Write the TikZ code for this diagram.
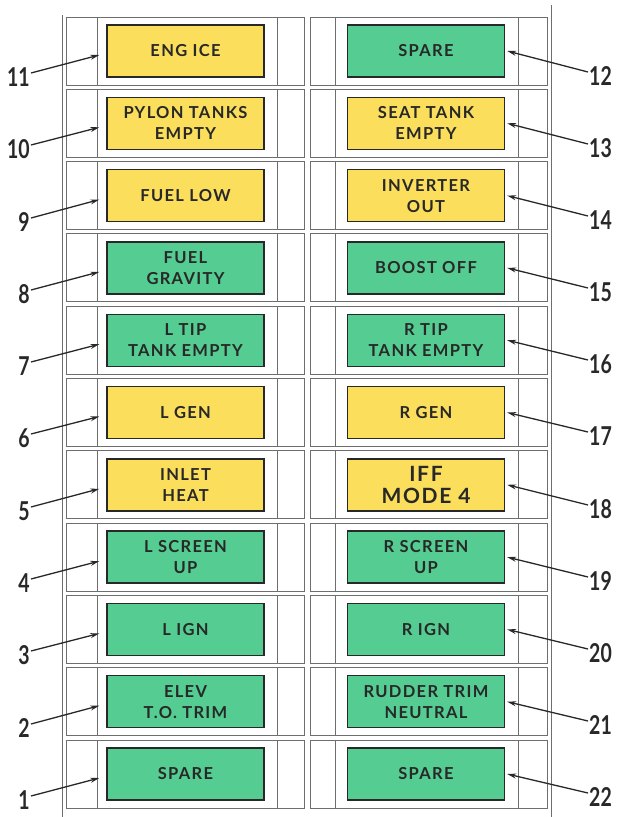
\documentclass[tikz,border=0pt]{standalone}
\usepackage{fontspec}
\setmainfont{Lato}
\newfontfamily\lampfont[LetterSpace=8]{Lato}
\newfontfamily\numfont[FakeStretch=0.75]{Lato}
\usetikzlibrary{arrows.meta}
\definecolor{lampyellow}{RGB}{250,222,92}
\definecolor{lampgreen}{RGB}{84,204,146}
\definecolor{gridgray}{RGB}{110,110,110}
\definecolor{ink}{RGB}{40,40,40}
\tikzset{
  cell/.style={draw=gridgray, line width=0.9pt},
  lamp/.style={draw=ink, line width=1.4pt, minimum width=157pt, minimum height=52pt,
    inner sep=0pt, align=center, text=ink, font=\lampfont\bfseries\fontsize{16.5}{21}\selectfont},
  yel/.style={lamp, fill=lampyellow},
  grn/.style={lamp, fill=lampgreen},
  num/.style={font=\numfont\bfseries\fontsize{26}{26}\selectfont, text=ink, inner sep=1pt},
  pointer/.style={-{Stealth[length=9pt,width=5pt]}, line width=1.3pt, draw=ink},
}
\begin{document}
\begin{tikzpicture}[x=1pt,y=-1pt]
  \useasboundingbox (0,0) rectangle (618,817);
  % panel frame
  \draw[cell] (62,15) -- (62,817);
  \draw[cell] (551,5) -- (551,817);
  \foreach \k in {0,...,10} {
    \pgfmathsetmacro{\rtop}{17+72.3*\k}
    \draw[cell] (66,\rtop) rectangle (304,\rtop+68);
    \draw[cell] (97,\rtop) -- (97,\rtop+68);
    \draw[cell] (277,\rtop) -- (277,\rtop+68);
    \draw[cell] (310,\rtop) rectangle (547,\rtop+68);
    \draw[cell] (335,\rtop) -- (335,\rtop+68);
    \draw[cell] (518,\rtop) -- (518,\rtop+68);
  }
  % left lamps
  \node[yel] (lamp11) at (185.5,51) {ENG ICE};
  \node[yel] (lamp10) at (185.5,123.3) {PYLON TANKS\\EMPTY};
  \node[yel] (lamp9) at (185.5,195.6) {FUEL LOW};
  \node[grn] (lamp8) at (185.5,267.9) {FUEL\\GRAVITY};
  \node[grn] (lamp7) at (185.5,340.2) {L TIP\\TANK EMPTY};
  \node[yel] (lamp6) at (185.5,412.5) {L GEN};
  \node[yel] (lamp5) at (185.5,484.8) {INLET\\HEAT};
  \node[grn] (lamp4) at (185.5,557.1) {L SCREEN\\UP};
  \node[grn] (lamp3) at (185.5,629.4) {L IGN};
  \node[grn] (lamp2) at (185.5,701.7) {ELEV\\T.O. TRIM};
  \node[grn] (lamp1) at (185.5,774) {SPARE};
  % right lamps
  \node[grn] (lamp12) at (426,51) {SPARE};
  \node[yel] (lamp13) at (426,123.3) {SEAT TANK\\EMPTY};
  \node[yel] (lamp14) at (426,195.6) {INVERTER\\OUT};
  \node[grn] (lamp15) at (426,267.9) {BOOST OFF};
  \node[grn] (lamp16) at (426,340.2) {R TIP\\TANK EMPTY};
  \node[yel] (lamp17) at (426,412.5) {R GEN};
  \node[yel, font=\lampfont\bfseries\fontsize{21}{22}\selectfont] (lamp18) at (426,484.8) {IFF\\MODE 4};
  \node[grn] (lamp19) at (426,557.1) {R SCREEN\\UP};
  \node[grn] (lamp20) at (426,629.4) {R IGN};
  \node[grn] (lamp21) at (426,701.7) {RUDDER TRIM\\NEUTRAL};
  \node[grn] (lamp22) at (426,774) {SPARE};
  % numbers
  \foreach \n/\y in {11/77,10/149,9/222,8/294,7/366,6/438,5/511,4/583,3/655,2/728,1/800} {
    \node[num, anchor=east] (num\n) at (31,\y) {\n};
    \draw[pointer] ([yshift=4pt]num\n.east) -- ([xshift=-7pt,yshift=-4pt]lamp\n.west);
  }
  \foreach \n/\y in {12/76,13/148,14/220,15/292,16/364,17/436,18/509,19/581,20/653,21/725,22/797} {
    \node[num, anchor=west] (num\n) at (588,\y) {\n};
    \draw[pointer] ([yshift=4pt]num\n.west) -- ([xshift=2pt]lamp\n.east);
  }
\end{tikzpicture}
\end{document}
